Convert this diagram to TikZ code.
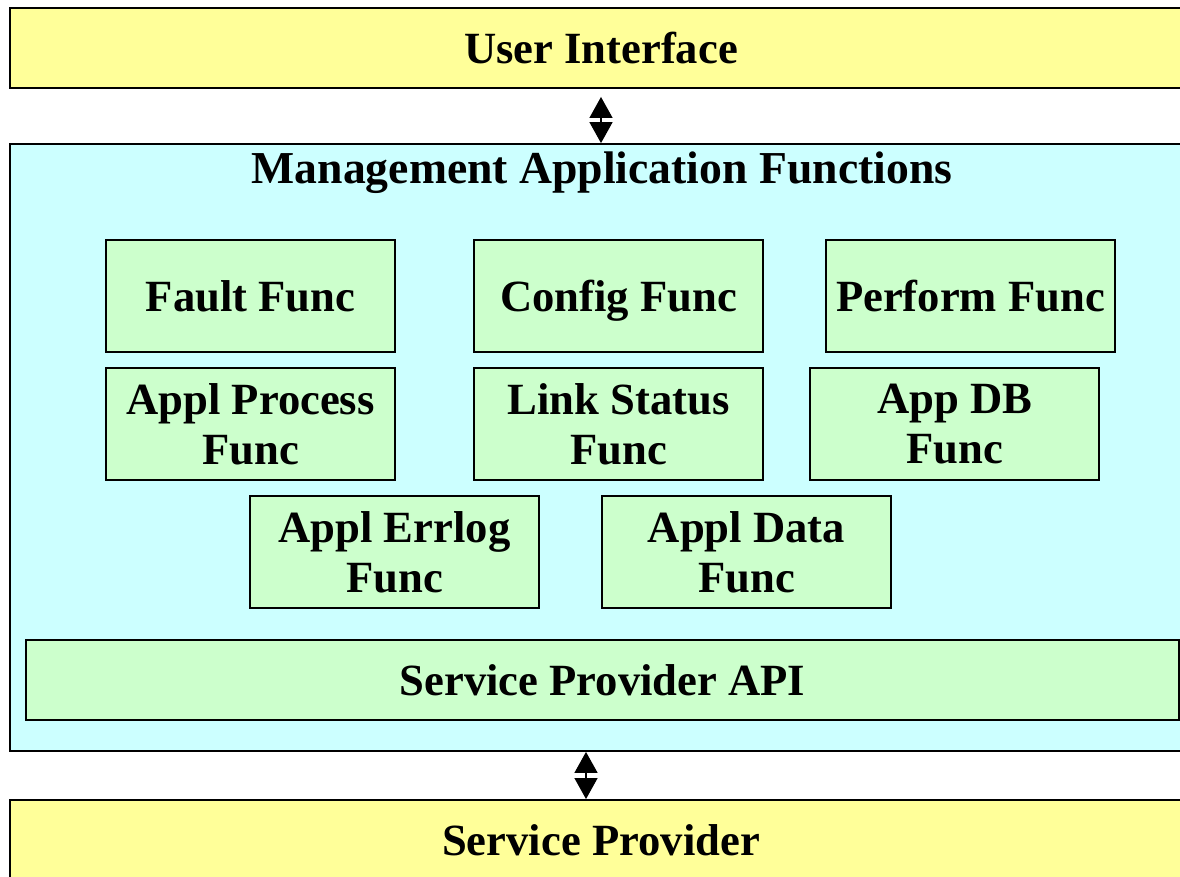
\documentclass[tikz,border=0pt]{standalone}
\usepackage{amsmath}
\usepackage{fontspec}
\setmainfont{Liberation Serif}
\usetikzlibrary{arrows.meta}

\definecolor{layeryellow}{HTML}{FFFF99}
\definecolor{layercyan}{HTML}{CCFFFF}
\definecolor{funcgreen}{HTML}{CCFFCC}

\begin{document}
\begin{tikzpicture}[x=0.02cm, y=-0.02cm,
    every node/.style={font=\fontsize{25.4}{28.5}\selectfont\bfseries, align=center, inner sep=0pt},
    oneline/.style={text height=23pt, text depth=5.5pt},
    layer/.style={draw, line width=1.1pt, fill=layeryellow, minimum width=23.64cm, minimum height=1.6cm, oneline},
    func/.style={draw, line width=1.1pt, fill=funcgreen, minimum width=5.78cm, minimum height=2.24cm},
    biarrow/.style={line width=0.8pt, {Triangle[width=0.46cm, length=0.42cm]}-{Triangle[width=0.46cm, length=0.42cm]}}]
    \clip (0,0) rectangle (1180,876);
    \fill[white] (0,0) rectangle (1180,876);

    % top and bottom layers
    \node[layer] (ui) at (601,48) {User Interface};
    \node[layer] (sp) at (601,840) {Service Provider};

    % management layer
    \node[draw, line width=1.1pt, fill=layercyan, minimum width=23.64cm, minimum height=12.14cm] (maf) at (601,447.5) {};
    \node[oneline, font=\fontsize{26}{28.5}\selectfont\bfseries] (maftitle) at (602,168) {Management Application Functions};

    % functions
    \node[func, oneline] (fault) at (250.5,296) {Fault Func};
    \node[func, oneline] (config) at (618.5,296) {Config Func};
    \node[func, oneline] (perform) at (970.5,296) {Perform Func};
    \node[func] (process) at (250.5,424) {Appl Process\\Func};
    \node[func] (link) at (618.5,424) {Link Status\\Func};
    \node[func] (appdb) at (954.5,424) {App DB\\Func};
    \node[func] (errlog) at (394.5,552) {Appl Errlog\\Func};
    \node[func] (data) at (746.5,552) {Appl Data\\Func};
    \node[func, oneline, minimum width=23.06cm, minimum height=1.6cm] (api) at (602.5,680) {Service Provider API};

    % links between layers
    \draw[biarrow] ([yshift=-0.16cm]ui.south) -- (maf.north);
    \draw[biarrow] ([xshift=-0.3cm]maf.south) -- ([xshift=-0.3cm]sp.north);
\end{tikzpicture}
\end{document}
